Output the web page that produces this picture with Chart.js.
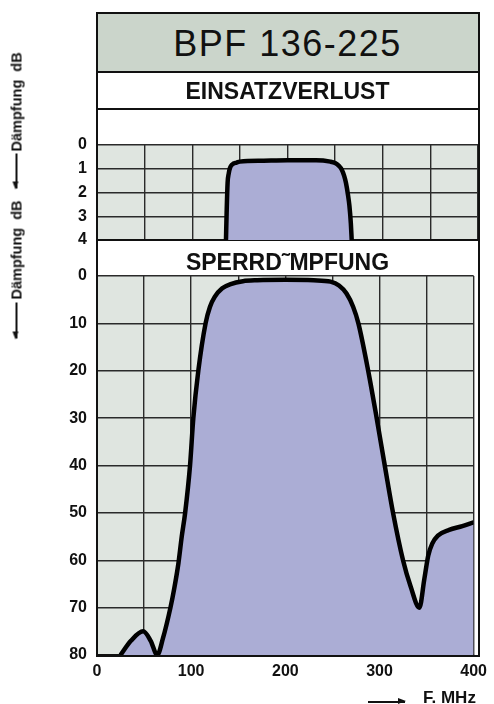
<!DOCTYPE html>
<html>
<head>
<meta charset="utf-8">
<script src="https://cdn.jsdelivr.net/npm/chart.js@4/dist/chart.umd.min.js"></script>
<style>
    body { margin: 0; background: #fff; font-family: "Liberation Sans", Arial, sans-serif; }
    #wrap { position: relative; width: 494px; height: 704px; overflow: hidden; }
    canvas { position: absolute; left: 0; top: 0; }
    .band { position: absolute; left: 97px; width: 381px; text-align: center; color: #111; box-sizing: border-box; }
    #title { top: 13px; height: 60px; background: #cbd5cb; font-size: 36px; line-height: 62px; letter-spacing: 1.5px; border-bottom: 2px solid #111; }
    #einsatz { top: 73px; height: 37px; font-size: 23px; font-weight: bold; line-height: 36px; border-bottom: 2px solid #111; }
    #sperr { top: 241px; height: 35px; font-size: 23px; font-weight: bold; line-height: 42px; }
    #frame { position: absolute; left: 96px; top: 12px; width: 384px; height: 645px; border: 2px solid #111; box-sizing: border-box; }
    #ylab { position: absolute; width: 291px; height: 16px; left: -129.5px; top: 184.5px; transform: rotate(-90deg);
            display: flex; align-items: center; font-size: 14.5px; font-weight: bold; color: #111; white-space: pre; }
    .arr { position: relative; height: 1.5px; background: #111; }
    .arr::before { content: ""; position: absolute; left: -1px; top: -3px; border-right: 8px solid #111;
                   border-top: 3.5px solid transparent; border-bottom: 3.5px solid transparent; }
    #fmhz { position: absolute; left: 423px; top: 689px; font-size: 17px; font-weight: bold; color: #111; line-height: 17px; }
    #xarr { position: absolute; left: 368px; top: 701px; width: 37px; height: 1.5px; background: #111; }
    #xarr::after { content: ""; position: absolute; right: -1px; top: -3px; border-left: 8px solid #111;
                   border-top: 3.5px solid transparent; border-bottom: 3.5px solid transparent; }
</style>
</head>
<body>
<div id="wrap">
    <canvas id="einsatzChart" width="494" height="704"></canvas>
    <canvas id="sperrChart" width="494" height="704"></canvas>
    <div class="band" id="title">BPF 136-225</div>
    <div class="band" id="einsatz">EINSATZVERLUST</div>
    <div class="band" id="sperr">SPERRD˜MPFUNG</div>
    <div id="frame"></div>
    <div id="ylab"><span class="arr" style="width:36px"></span><span style="margin-left:3px">Dämpfung  dB</span><span class="arr" style="width:35px;margin-left:12px"></span><span style="margin-left:2px">Dämpfung  dB</span></div>
    <div id="fmhz">F. MHz</div>
    <div id="xarr"></div>
</div>

<script>
// Einsatzverlust (dB) ueber Frequenz (MHz)
var freqIL = [135.4, 136.1, 137.1, 138.3, 139.6, 142, 146.6, 150, 175, 200, 230, 245, 250, 254, 257, 259.5, 261.4, 263.5, 265, 266.5, 267.4];
var lossIL = [4, 2.85, 1.6, 1.2, 0.97, 0.82, 0.74, 0.7, 0.66, 0.64, 0.64, 0.7, 0.76, 0.88, 1.04, 1.3, 1.6, 2.1, 2.56, 3.3, 4];

// Sperrdaempfung (dB) ueber Frequenz (MHz)
var freqSB = [25, 36, 49, 57, 64, 70, 78, 82, 86.5, 90, 93.6, 98.8, 102.3, 107.6, 115.3, 120, 125, 133, 142, 155, 170, 200, 230, 248, 257, 265, 272, 277.6, 288, 297, 305.6, 314.4, 325, 333, 342.4, 347.6, 351.8, 356, 362, 374, 388, 400];
var attSB = [80, 77, 75, 77, 80, 76.5, 70, 66, 60.6, 55, 50, 40, 30, 20, 10, 6.5, 4.4, 2.6, 1.7, 1.1, 0.9, 0.8, 0.9, 1.2, 2.0, 3.7, 6.5, 10, 20, 30, 40, 50, 60, 65.5, 70, 64, 59, 56.5, 54.8, 53.6, 52.8, 52];

var xTicks = [0, 100, 200, 300, 400];

var gridColor = '#2a2a2a';
var plotBg = '#dfe5e0';
var fillColor = '#abadd5';

function toPoints(xs, ys) {
    var pts = [];
    for (var i in xs) {
        pts.push({ x: xs[i], y: ys[i] });
    }
    return pts;
}

var bgPlugin = {
    id: 'plotBg',
    beforeDraw: function (chart) {
        var a = chart.chartArea;
        var ctx = chart.ctx;
        ctx.save();
        ctx.fillStyle = plotBg;
        ctx.fillRect(a.left, a.top, a.right - a.left, a.bottom - a.top);
        ctx.restore();
    }
};

function makeChart(canvasId, xs, ys, yMax, yStep, pad, showX) {
    return new Chart(document.getElementById(canvasId), {
        type: 'line',
        data: {
            datasets: [{
                data: toPoints(xs, ys),
                borderColor: '#000',
                borderWidth: 4.5,
                backgroundColor: fillColor,
                fill: 'start',
                pointRadius: 0,
                cubicInterpolationMode: 'monotone'
            }]
        },
        options: {
            responsive: false,
            animation: false,
            layout: { padding: pad },
            plugins: { legend: { display: false }, tooltip: { enabled: false } },
            scales: {
                x: {
                    type: 'linear',
                    min: 0,
                    max: 400,
                    grid: { color: gridColor, lineWidth: 1.4, drawTicks: false },
                    border: { color: '#111', width: 2 },
                    ticks: {
                        display: showX,
                        stepSize: 50,
                        autoSkip: false,
                        maxRotation: 0,
                        padding: 7,
                        color: '#111',
                        font: { family: 'Liberation Sans', size: 16, weight: 'bold' },
                        callback: function (v) {
                            return xTicks.indexOf(v) >= 0 ? String(v) : '';
                        }
                    },
                    afterFit: function (s) { s.height = showX ? 30 : 0; }
                },
                y: {
                    min: 0,
                    max: yMax,
                    reverse: true,
                    grid: { color: gridColor, lineWidth: 1.4, drawTicks: false },
                    border: { color: '#111', width: 2 },
                    ticks: {
                        stepSize: yStep,
                        padding: 10,
                        color: '#111',
                        font: { family: 'Liberation Sans', size: 16, weight: 'bold' }
                    },
                    afterFit: function (s) { s.width = 97; }
                }
            }
        },
        plugins: [bgPlugin]
    });
}

makeChart('einsatzChart', freqIL, lossIL, 4, 1, { left: 0, right: 16, top: 145, bottom: 464 }, false);
makeChart('sperrChart', freqSB, attSB, 80, 10, { left: 0, right: 16, top: 276, bottom: 19 }, true);
</script>
</body>
</html>
